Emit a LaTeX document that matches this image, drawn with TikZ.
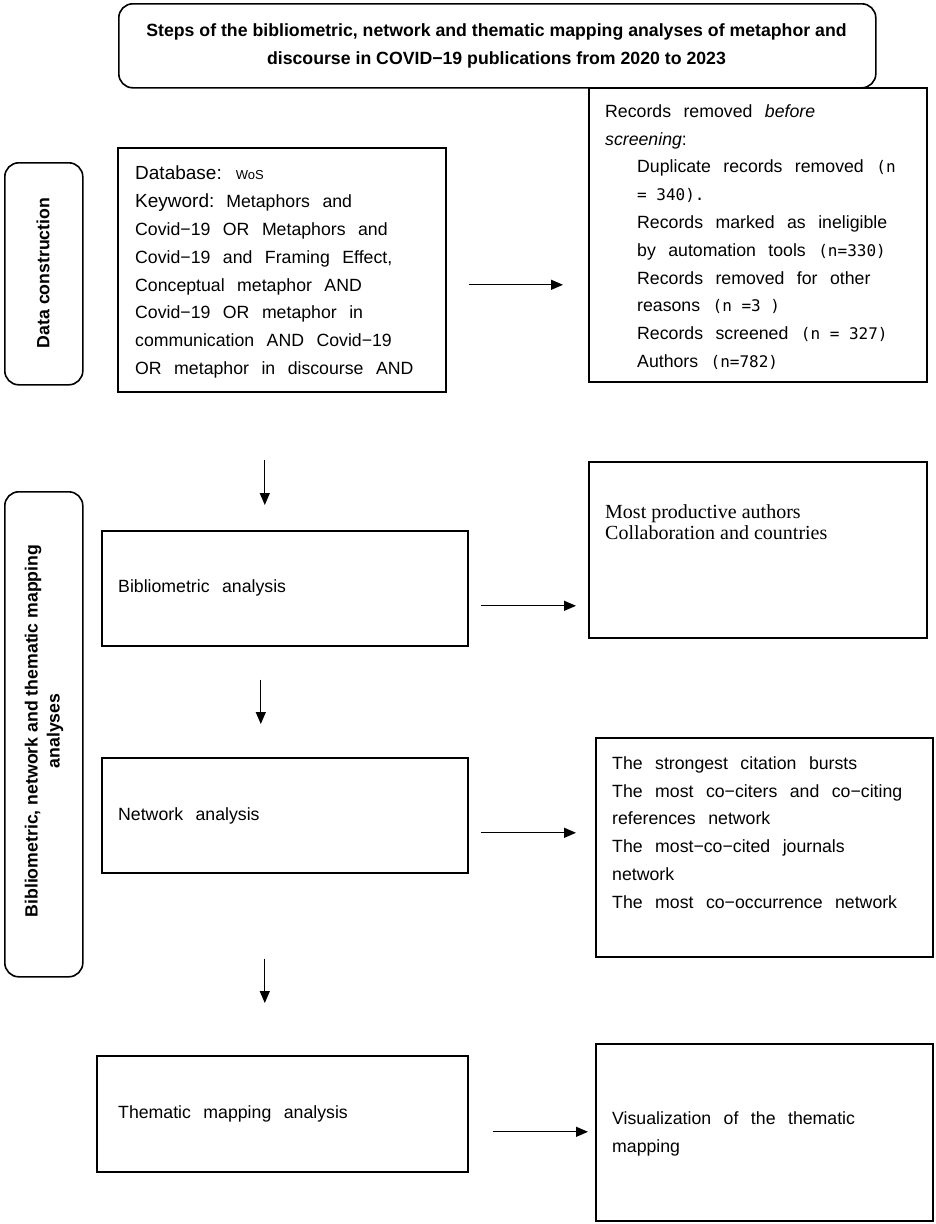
\documentclass[tikz,border=0pt]{standalone}
\usepackage{fontspec}
\setmainfont{Liberation Sans}
\newfontfamily\bodyf{Liberation Sans}
\newfontfamily\monof{DejaVu Sans Mono}
\newfontfamily\serf{Liberation Serif}
\usetikzlibrary{arrows.meta}
\newcommand\firstst{\rule{0pt}{13pt}}
\newcommand\ind{\hspace*{32pt}}
\newcommand\nm[1]{{\monof\fontsize{16}{27.8}\selectfont\spaceskip=0pt #1}}
\newcommand\widesp{\spaceskip=12.5pt plus 2pt minus 1pt\relax}
\begin{document}
\begin{tikzpicture}[x=1pt,y=-1pt,
  box/.style={draw, line width=1.6pt, inner sep=0pt, anchor=north west},
  rbox/.style={box, rounded corners=14pt},
  arr/.style={-{Triangle[length=12pt,width=10pt]}, line width=1.3pt},
  txt/.style={inner sep=0pt, align=left, font=\bodyf\fontsize{17.7}{27.8}\selectfont\widesp},
  side/.style={inner sep=0pt, align=center, rotate=90, font=\bfseries\fontsize{17.7}{22}\selectfont}]
\useasboundingbox (0,0) rectangle (935,1224);
% boxes
\node[rbox, minimum width=757pt, minimum height=84pt] (title) at (118,3) {};
\node[box, minimum width=338pt, minimum height=294pt] (rec) at (588,87) {};
\node[rbox, minimum width=78pt, minimum height=222pt] (dc) at (4,162) {};
\node[box, minimum width=328pt, minimum height=244pt] (db) at (117,147) {};
\node[rbox, minimum width=78pt, minimum height=485pt] (bib) at (4,491) {};
\node[box, minimum width=366pt, minimum height=115pt] (ba) at (101,530) {};
\node[box, minimum width=338pt, minimum height=176pt] (mp) at (588,461) {};
\node[box, minimum width=366pt, minimum height=115pt] (na) at (101,757) {};
\node[box, minimum width=337pt, minimum height=219pt] (nr) at (595,737) {};
\node[box, minimum width=371pt, minimum height=116pt] (ta) at (96,1055) {};
\node[box, minimum width=337pt, minimum height=177pt] (vr) at (595,1043) {};
% texts
\node[inner sep=0pt, align=center, font=\bfseries\fontsize{17.7}{28}\selectfont] (titletxt) at (496.5,46)
  {Steps of the bibliometric, network and thematic mapping analyses of metaphor and\\
   discourse in COVID−19 publications from 2020 to 2023};
\node[side] (dctxt) at (43,273) {Data construction};
\node[side] (bibtxt) at (44,731) {Bibliometric, network and thematic mapping\\ analyses};
\node[txt, anchor=north west] (dbtxt) at (135,166)
  {\firstst{\fontsize{19}{27.8}\selectfont Database:}\hspace{14pt}{\fontsize{13}{27.8}\selectfont WoS}\\
   {\fontsize{19}{27.8}\selectfont Keyword:}\hspace{12pt}Metaphors and\\
   Covid−19 OR Metaphors and\\
   Covid−19 and Framing Effect,\\
   Conceptual metaphor AND\\
   Covid−19 OR metaphor in\\
   communication AND Covid−19\\
   OR metaphor in discourse AND};
\node[txt, anchor=north west] (rectxt) at (605,104)
  {\firstst Records removed \textit{before}\\
   \textit{screening}:\\
   \ind Duplicate records removed \nm{(n}\\
   \ind \nm{= 340).}\\
   \ind Records marked as ineligible\\
   \ind by automation tools \nm{(n=330)}\\
   \ind Records removed for other\\
   \ind reasons \nm{(n =3 )}\\
   \ind Records screened \nm{(n = 327)}\\
   \ind Authors \nm{(n=782)}};
\node[inner sep=0pt, align=left, anchor=north west, font=\serf\fontsize{20}{21}\selectfont] (mptxt) at (605,503)
  {\rule{0pt}{15pt}Most productive authors\\ Collaboration and countries};
\node[txt, anchor=west] (batxt) at (118,588) {Bibliometric analysis};
\node[txt, anchor=west] (natxt) at (118,816) {Network analysis};
\node[txt, anchor=north west] (nrtxt) at (612,756)
  {\firstst The strongest citation bursts\\
   The most co−citers and co−citing\\
   references network\\
   The most−co−cited journals\\
   network\\
   The most co−occurrence network};
\node[txt, anchor=west] (tatxt) at (118,1114) {Thematic mapping analysis};
\node[txt, anchor=north west] (vrtxt) at (612,1111)
  {\firstst Visualization of the thematic\\ mapping};
% arrows
\draw[arr, shorten <=22pt, shorten >=25pt] ([yshift=-15pt]db.east) -- ([yshift=-15pt]db.east -| rec.west);
\draw[arr, shorten <=67pt, shorten >=25pt] ([xshift=-17pt]db.south) -- ([xshift=-17pt]db.south |- ba.north);
\draw[arr, shorten <=12pt, shorten >=12pt] ([yshift=-17.5pt]ba.east) -- ([yshift=-17.5pt]ba.east -| mp.west);
\draw[arr, shorten <=33pt, shorten >=33pt] ([xshift=-24pt]ba.south) -- ([xshift=-24pt]ba.south |- na.north);
\draw[arr, shorten <=12pt, shorten >=19pt] ([yshift=-17.5pt]na.east) -- ([yshift=-17.5pt]na.east -| nr.west);
\draw[arr, shorten <=85pt, shorten >=52pt] ([xshift=-20pt]na.south) -- ([xshift=-20pt]na.south |- ta.north);
\draw[arr, shorten <=24pt, shorten >=7pt] ([yshift=-18pt]ta.east) -- ([yshift=-18pt]ta.east -| vr.west);
\end{tikzpicture}
\end{document}
